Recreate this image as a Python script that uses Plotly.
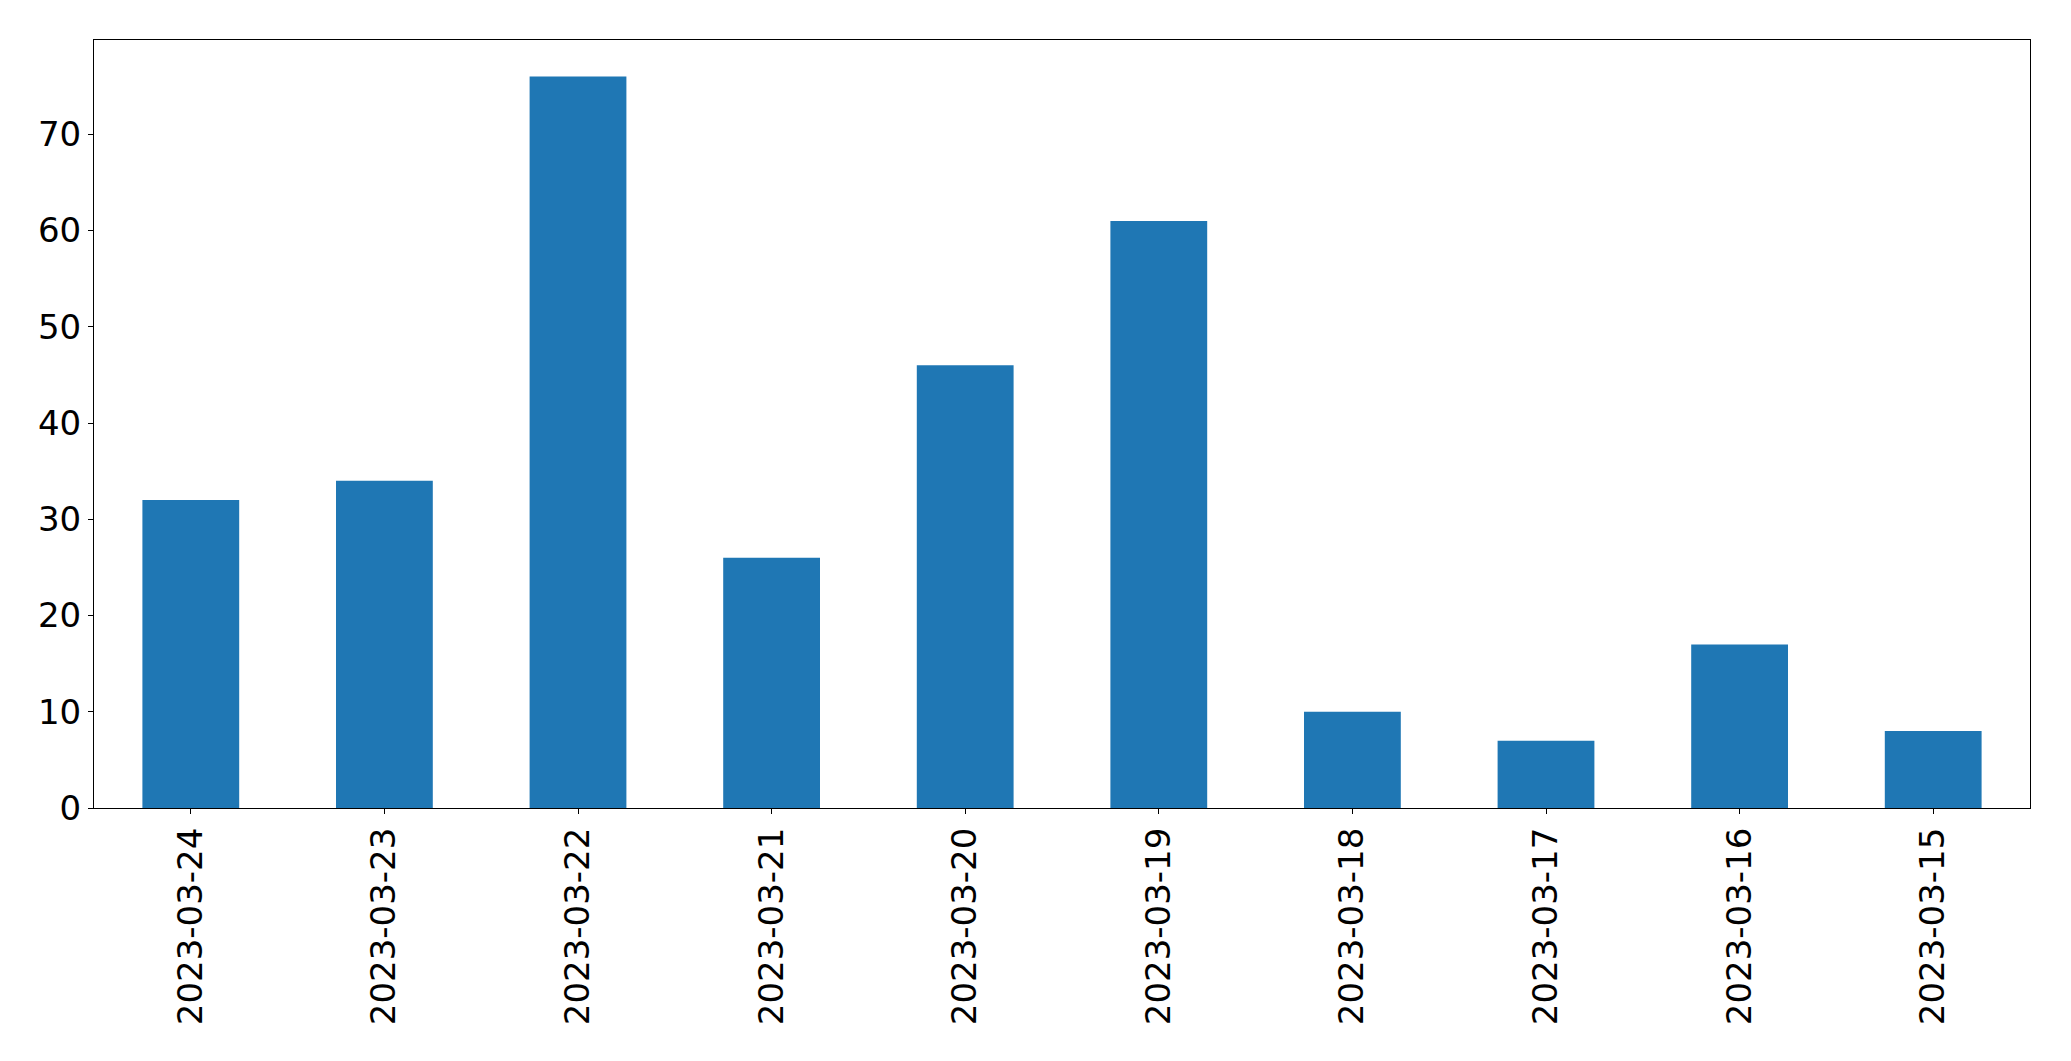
import plotly.graph_objects as go

dates = ["2023-03-24", "2023-03-23", "2023-03-22", "2023-03-21", "2023-03-20",
         "2023-03-19", "2023-03-18", "2023-03-17", "2023-03-16", "2023-03-15"]
counts = [32, 34, 76, 26, 46, 61, 10, 7, 17, 8]

fig = go.Figure(go.Bar(x=dates, y=counts, marker=dict(color="#1f77b4", line=dict(width=0)), width=0.5))

font = dict(family="DejaVu Sans", size=34, color="black")
fig.update_layout(
    width=2055, height=1045,
    margin=dict(l=86, r=33, t=32, b=245, pad=0),
    plot_bgcolor="white", paper_bgcolor="white",
    showlegend=False,
    font=font,
)
fig.update_xaxes(
    type="category", range=[-0.5, 9.5], tickangle=-90,
    showline=True, linecolor="black", linewidth=1.1, mirror=True,
    ticks="outside", ticklen=5, tickcolor="black", tickwidth=1.1,
    showgrid=False, zeroline=False, tickfont=font,
)
fig.update_yaxes(
    range=[0, 79.8], tickmode="linear", tick0=0, dtick=10,
    showline=True, linecolor="black", linewidth=1.1, mirror=True,
    ticks="outside", ticklen=5, tickcolor="black", tickwidth=1.1,
    showgrid=False, zeroline=False, tickfont=font,
)
fig.write_html("out.html")
